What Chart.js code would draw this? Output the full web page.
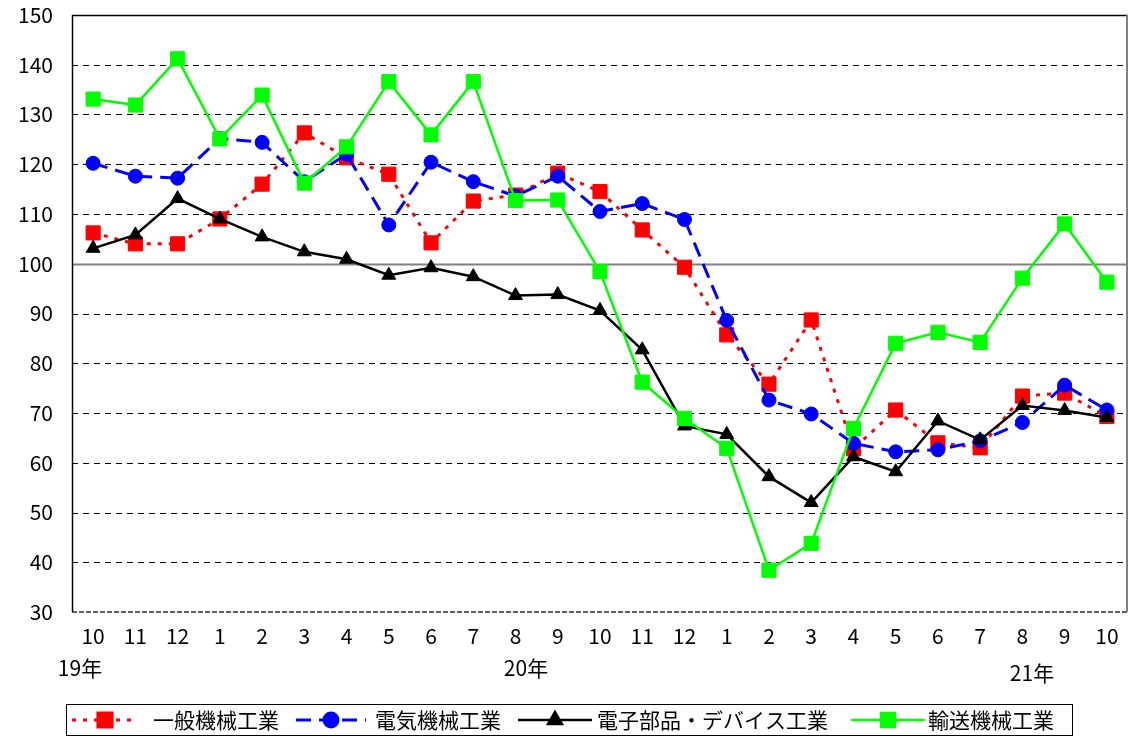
<!DOCTYPE html>
<html><head><meta charset="utf-8">
<script src="https://cdn.jsdelivr.net/npm/chart.js@4/dist/chart.umd.min.js"></script>
<style>html,body{margin:0;padding:0;background:#fff;overflow:hidden}#wrap{width:1134px;height:737px}canvas{display:block}</style>
</head><body><div id="wrap"><canvas id="c" width="1134" height="737"></canvas></div>
<script>
const months = ['10','11','12','1','2','3','4','5','6','7','8','9','10','11','12','1','2','3','4','5','6','7','8','9','10'];
const yearLabels = ['19年','20年','21年'];
const seriesNames = ['一般機械工業','電気機械工業','電子部品・デバイス工業','輸送機械工業'];
const generalMachinery = [106.2,104.0,104.0,109.0,116.0,126.3,121.3,118.0,104.2,112.6,113.8,118.2,114.5,106.8,99.3,85.7,75.8,88.7,62.8,70.6,64.0,63.0,73.4,74.0,69.3];
const electricalMachinery = [120.2,117.6,117.2,125.2,124.4,116.5,122.0,107.8,120.4,116.5,113.6,117.6,110.5,112.1,108.9,88.6,72.6,69.8,63.9,62.2,62.6,64.4,68.1,75.6,70.6];
const electronicParts = [103.1,105.8,113.1,109.0,105.4,102.4,100.9,97.7,99.2,97.4,93.6,93.8,90.6,82.7,67.4,65.7,57.2,52.0,61.2,58.2,68.4,64.6,71.5,70.5,69.1];
const transportMachinery = [133.1,131.9,141.2,125.1,133.9,116.2,123.5,136.6,125.9,136.6,112.7,112.8,98.4,76.2,68.9,62.9,38.4,43.8,66.9,84.0,86.2,84.2,97.1,108.0,96.3];
const yMin = 30, yMax = 150, yStep = 10;

const FONT = "'Noto Sans CJK JP', 'Noto Sans', sans-serif";

const gridPlugin = {
  id: 'customGrid',
  beforeDatasetsDraw(chart) {
    const {ctx, chartArea: a, scales: {y}} = chart;
    ctx.save();
    for (let v = yMin + yStep; v < yMax; v += yStep) {
      const py = Math.round(y.getPixelForValue(v)) + 0.5;
      ctx.beginPath();
      if (v === 100) { ctx.setLineDash([]); ctx.strokeStyle = '#808080'; ctx.lineWidth = 2; }
      else { ctx.setLineDash([6, 5]); ctx.strokeStyle = '#000'; ctx.lineWidth = 1; }
      ctx.moveTo(a.left, py); ctx.lineTo(a.right, py); ctx.stroke();
    }
    ctx.setLineDash([5, 2]); ctx.strokeStyle = '#606060'; ctx.lineWidth = 2;
    ctx.beginPath(); ctx.moveTo(a.left, a.bottom); ctx.lineTo(a.right, a.bottom); ctx.stroke();
    ctx.setLineDash([]);
    ctx.strokeStyle = '#000'; ctx.lineWidth = 1.5;
    ctx.beginPath(); ctx.moveTo(a.left, a.top + 0.5); ctx.lineTo(a.right, a.top + 0.5); ctx.stroke();
    ctx.strokeStyle = '#808080'; ctx.lineWidth = 2;
    ctx.beginPath(); ctx.moveTo(a.right - 1, a.top); ctx.lineTo(a.right - 1, a.bottom); ctx.stroke();
    ctx.strokeStyle = '#000'; ctx.lineWidth = 1.5;
    ctx.beginPath(); ctx.moveTo(a.left + 0.5, a.top); ctx.lineTo(a.left + 0.5, a.bottom); ctx.stroke();
    ctx.restore();
  }
};

const extrasPlugin = {
  id: 'extras',
  afterDraw(chart) {
    const ctx = chart.ctx;
    ctx.save();
    ctx.fillStyle = '#000';
    ctx.font = '21px ' + FONT;
    ctx.textAlign = 'center'; ctx.textBaseline = 'middle';
    const yearPos = [[80, 668], [526, 668], [1032, 673]];
    yearLabels.forEach((t, i) => ctx.fillText(t, yearPos[i][0], yearPos[i][1]));
    ctx.strokeStyle = '#000'; ctx.lineWidth = 1;
    ctx.strokeRect(66.5, 704.5, 1006, 31);
    const ly = 720;
    const lineStart = [72, 296, 518, 851];
    const lineEnd = [138, 366, 592, 925];
    const textX = [153, 375, 597, 928];
    chart.data.datasets.forEach((ds, i) => {
      ctx.save();
      ctx.strokeStyle = ds.borderColor; ctx.lineWidth = ds.borderWidth;
      ctx.setLineDash(ds.borderDash || []);
      ctx.beginPath(); ctx.moveTo(lineStart[i], ly); ctx.lineTo(lineEnd[i], ly); ctx.stroke();
      ctx.setLineDash([]);
      ctx.fillStyle = ds.backgroundColor; ctx.strokeStyle = ds.backgroundColor;
      Chart.helpers.drawPoint(ctx, {pointStyle: ds.pointStyle, radius: ds.pointRadius, rotation: 0, borderWidth: 1}, (lineStart[i] + lineEnd[i]) / 2, ly);
      ctx.restore();
      ctx.fillStyle = '#000'; ctx.textAlign = 'left'; ctx.textBaseline = 'middle';
      ctx.font = '21px ' + FONT;
      ctx.fillText(ds.label, textX[i], ly);
    });
    ctx.restore();
  }
};

const zeroPad = () => ({left: 0, top: 0, right: 0, bottom: 0});

new Chart(document.getElementById('c'), {
  type: 'line',
  data: {
    labels: months,
    datasets: [
      {label: seriesNames[0], data: generalMachinery, borderColor: '#ff0000', backgroundColor: '#ff0000', borderWidth: 3, borderDash: [4, 7], pointStyle: 'rect', pointRadius: 10, pointBorderWidth: 1, pointBorderColor: '#ff0000', order: 4, tension: 0},
      {label: seriesNames[1], data: electricalMachinery, borderColor: '#0000ff', backgroundColor: '#0000ff', borderWidth: 3, borderDash: [15, 8], pointStyle: 'circle', pointRadius: 7, pointBorderWidth: 1, pointBorderColor: '#0000ff', order: 3, tension: 0},
      {label: seriesNames[2], data: electronicParts, borderColor: '#000000', backgroundColor: '#000000', borderWidth: 2.5, pointStyle: 'triangle', pointRadius: 8, pointBorderWidth: 1, pointBorderColor: '#000000', order: 2, tension: 0},
      {label: seriesNames[3], data: transportMachinery, borderColor: '#00ff00', backgroundColor: '#00ff00', borderWidth: 2.5, pointStyle: 'rect', pointRadius: 10, pointBorderWidth: 1, pointBorderColor: '#00ff00', order: 1, tension: 0}
    ]
  },
  options: {
    responsive: false,
    animation: false,
    events: [],
    devicePixelRatio: 1,
    layout: {autoPadding: false, padding: {top: 15, right: 6, left: 0, bottom: 0}},
    plugins: {legend: {display: false}, tooltip: {enabled: false}},
    scales: {
      x: {
        type: 'category', offset: true,
        grid: {display: false, drawTicks: false},
        border: {display: false},
        ticks: {color: '#000', font: {family: FONT, size: 21}, padding: 11, maxRotation: 0, autoSkip: false},
        afterFit: s => { s.height = 125; s.paddingLeft = 0; s.paddingRight = 0; s.getPadding = zeroPad; }
      },
      y: {
        min: yMin, max: yMax,
        grid: {display: false, drawTicks: false},
        border: {display: false},
        ticks: {stepSize: yStep, color: '#000', font: {family: FONT, size: 21}, padding: 19},
        afterFit: s => { s.width = 72; s.paddingTop = 0; s.paddingBottom = 0; s.getPadding = zeroPad; }
      }
    }
  },
  plugins: [gridPlugin, extrasPlugin]
});
</script></body></html>
